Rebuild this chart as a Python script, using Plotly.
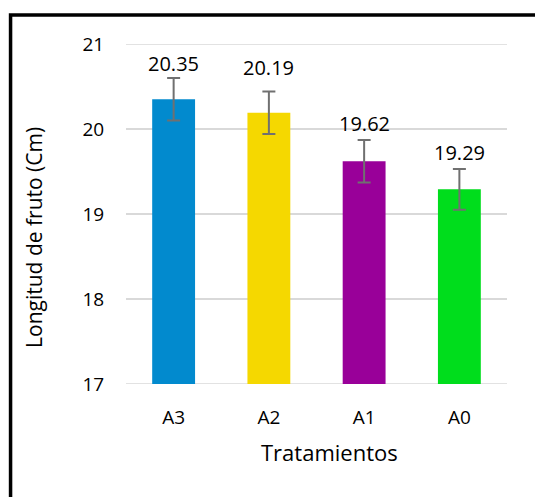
import plotly.graph_objects as go

categories = ["A3", "A2", "A1", "A0"]
values = [20.35, 20.19, 19.62, 19.29]
errors = [0.25, 0.25, 0.25, 0.24]
labels = ["20.35", "20.19", "19.62", "19.29"]
colors = ["#028ACE", "#F5D800", "#990099", "#00DD1C"]
label_shift = [36, 45, 38, 37]
y_ticks = [17, 18, 19, 20, 21]

FONT = "Open Sans"
GRID = "#D9D9D9"

fig = go.Figure()
fig.add_trace(go.Bar(
    x=categories, y=values, marker=dict(color=colors, line=dict(width=0)),
    width=0.45,
    error_y=dict(type="data", array=errors, visible=True, color="#707070",
                 thickness=2, width=6.5),
    hoverinfo="skip",
))

for c, v, t, s in zip(categories, values, labels, label_shift):
    fig.add_annotation(x=c, y=v, text=t, showarrow=False, yshift=s,
                       yanchor="middle", font=dict(family=FONT, size=20, color="#000000"))

fig.add_annotation(xref="paper", yref="paper", x=0.533, y=-0.2, yanchor="middle",
                   text="Tratamientos", showarrow=False,
                   font=dict(family=FONT, size=22, color="#000000"))
fig.add_annotation(xref="paper", yref="paper", x=-0.242, y=0.432, xanchor="center",
                   yanchor="middle", textangle=-90,
                   text="Longitud de fruto (Cm)", showarrow=False,
                   font=dict(family=FONT, size=21, color="#000000"))

# gridlines at the range ends (Plotly omits them at the plot edges)
for yv in (y_ticks[0], y_ticks[-1]):
    fig.add_shape(type="line", xref="paper", yref="y", x0=0, x1=1, y0=yv, y1=yv,
                  line=dict(color=GRID, width=1.5), layer="below")

fig.add_shape(type="rect", xref="paper", yref="paper", x0=-0.303, x1=1.3,
              y0=-0.6, y1=1.085, line=dict(color="#000000", width=3.5),
              fillcolor="rgba(0,0,0,0)", layer="above")

fig.update_layout(
    width=543, height=497,
    margin=dict(l=118, r=44, t=36, b=121),
    paper_bgcolor="#FFFFFF", plot_bgcolor="#FFFFFF",
    showlegend=False, bargap=0.55,
    font=dict(family=FONT, size=19, color="#000000"),
)
fig.update_yaxes(range=[17, 21], tickvals=y_ticks, showgrid=True,
                 gridcolor=GRID, gridwidth=1.5, zeroline=False,
                 showline=False, ticks="outside", ticklen=17,
                 tickcolor="rgba(0,0,0,0)", tickfont=dict(size=19))
fig.update_xaxes(showgrid=False, showline=False, ticks="outside", ticklen=16,
                 tickcolor="rgba(0,0,0,0)", tickfont=dict(size=19))

fig.write_html("out.html")
